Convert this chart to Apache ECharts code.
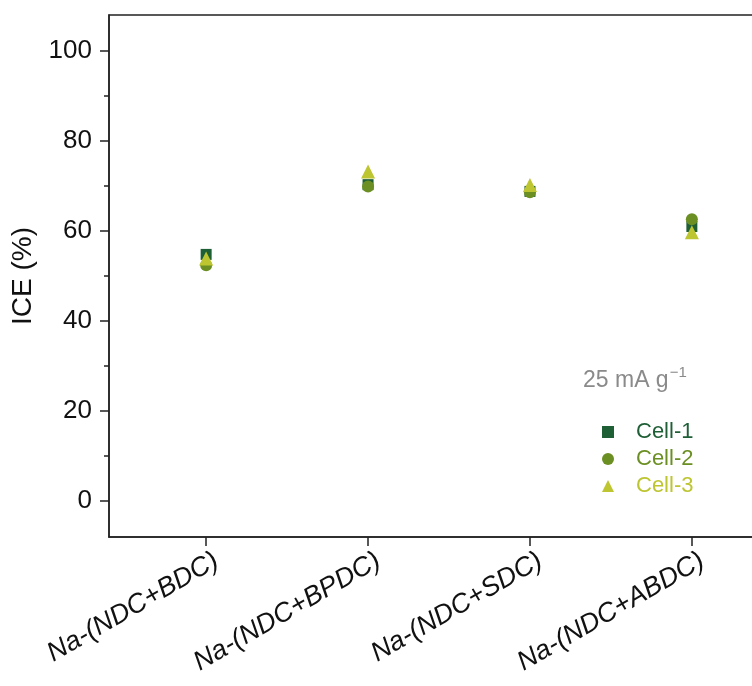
<!DOCTYPE html>
<html><head><meta charset="utf-8">
<script src="https://cdn.jsdelivr.net/npm/echarts@6/dist/echarts.min.js"></script>
<style>html,body{margin:0;padding:0;background:#fff}#c{width:752px;height:686px}</style>
</head><body><div id="c"></div>
<script>
var categories = ['Na-(NDC+BDC)', 'Na-(NDC+BPDC)', 'Na-(NDC+SDC)', 'Na-(NDC+ABDC)'];
var cell1 = [54.8, 70.3, 68.8, 61.0];
var cell2 = [52.4, 69.9, 68.6, 62.6];
var cell3 = [53.9, 73.2, 70.2, 59.7];
var yMajorTicks = [0, 20, 40, 60, 80, 100];
var yMinorTicks = [10, 30, 50, 70, 90];
var seriesNames = ['Cell-1', 'Cell-2', 'Cell-3'];
var colors = ['#1f5f36', '#6b8f23', '#bdc531'];
var symbols = ['rect', 'circle', 'triangle'];
var FONT = '"Liberation Sans", Arial, sans-serif';

function pts(arr) { return arr.map(function (v, i) { return [i + 1, v]; }); }
var allData = [cell1, cell2, cell3];

var chart = echarts.init(document.getElementById('c'), null, { renderer: 'canvas' });
chart.setOption({
  animation: false,
  backgroundColor: '#fff',
  grid: { left: 109, top: 15, height: 522, width: 680, show: true, borderColor: '#222', borderWidth: 1.5, backgroundColor: 'transparent', containLabel: false, outerBoundsMode: 'none' },
  xAxis: {
    type: 'value', min: 0.4, max: 4.6,
    splitLine: { show: false },
    axisLine: { show: true, onZero: false, lineStyle: { color: '#222', width: 1.5 } },
    axisTick: { show: true, customValues: [1, 2, 3, 4], length: 9, inside: false, lineStyle: { color: '#222', width: 1.5 } },
    axisLabel: {
      customValues: [1, 2, 3, 4], rotate: 30, margin: 28, padding: [0, -12, 0, 0],
      fontFamily: FONT, fontSize: 27, fontStyle: 'italic', color: '#111',
      formatter: function (v) { return categories[Math.round(v) - 1] || ''; }
    }
  },
  yAxis: [{
    type: 'value', min: -8, max: 108,
    name: 'ICE (%)', nameLocation: 'middle', nameGap: 62,
    nameTextStyle: { fontFamily: FONT, fontSize: 28, color: '#111' },
    splitLine: { show: false },
    axisLine: { show: true, onZero: false, lineStyle: { color: '#222', width: 1.5 } },
    axisTick: { show: true, customValues: yMajorTicks, length: 9, lineStyle: { color: '#222', width: 1.5 } },
    axisLabel: { customValues: yMajorTicks, margin: 17, fontFamily: FONT, fontSize: 26, color: '#111' }
  }, {
    type: 'value', min: -8, max: 108, position: 'left', offset: 0,
    splitLine: { show: false },
    axisLine: { show: false },
    axisTick: { show: true, customValues: yMinorTicks, length: 5, lineStyle: { color: '#222', width: 1.5 } },
    axisLabel: { show: false }
  }],
  legend: {
    orient: 'vertical', left: 597, top: 416, itemGap: 5,
    itemWidth: 12, itemHeight: 12,
    textStyle: { fontFamily: FONT, fontSize: 22, padding: [0, 0, 0, 17] },
    data: seriesNames.map(function (n, i) { return { name: n, icon: symbols[i], textStyle: { color: colors[i] } }; })
  },
  graphic: [{
    type: 'text', left: 583, top: 365,
    style: {
      text: '{a|25 mA g}{s|−1}',
      rich: {
        a: { fontFamily: FONT, fontSize: 23, fill: '#8a8a8a', verticalAlign: 'bottom' },
        s: { fontFamily: FONT, fontSize: 15, fill: '#8a8a8a', verticalAlign: 'top', padding: [0, 0, 12, 1] }
      }
    }
  }],
  series: seriesNames.map(function (n, i) {
    return {
      name: n, type: 'scatter', data: pts(allData[i]),
      symbol: symbols[i], symbolSize: i === 0 ? 11 : (i === 1 ? 12 : 14),
      itemStyle: { color: colors[i], opacity: 1 }, z: 2 + i
    };
  })
});
</script></body></html>
